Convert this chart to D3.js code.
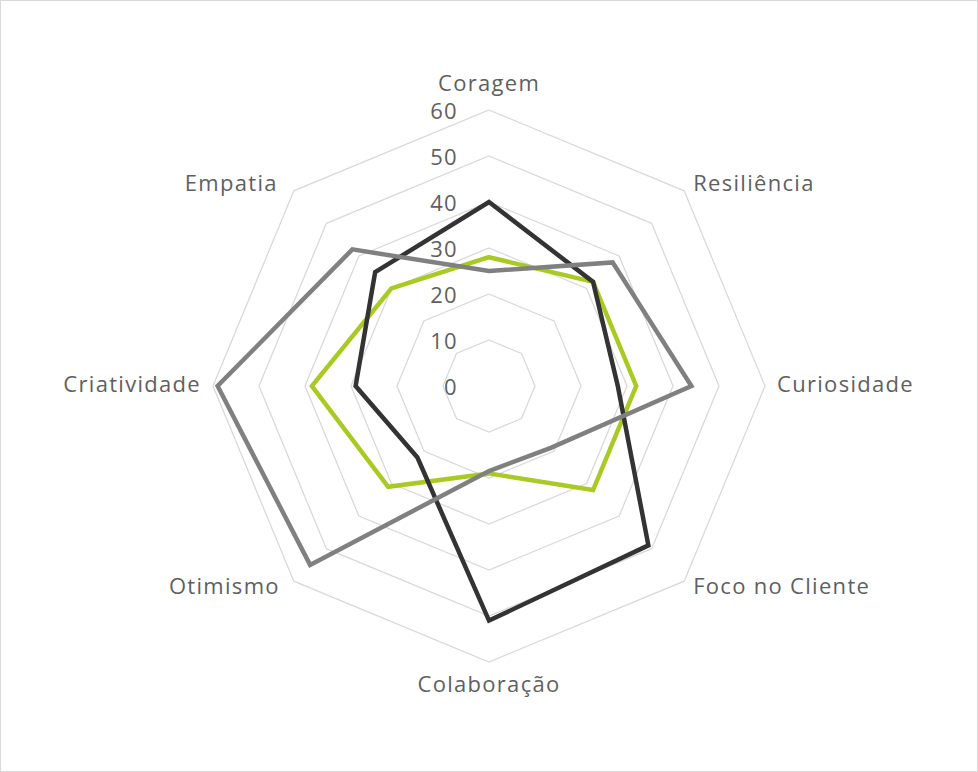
<!DOCTYPE html>
<html>
<head>
<meta charset="utf-8">
<script src="https://cdn.jsdelivr.net/npm/d3@7"></script>
<style>
  html, body { margin: 0; padding: 0; background: #fff; }
  svg { display: block; }
  text { font-family: "Open Sans", "Noto Sans", sans-serif; fill: #5f5f5f; font-size: 22px; letter-spacing: 1.3px; }
</style>
</head>
<body>
<script>
const categories = ["Coragem", "Resiliência", "Curiosidade", "Foco no Cliente", "Colaboração", "Otimismo", "Criatividade", "Empatia"];
const seriesGreen = [28, 32, 32, 32, 19, 31, 38.5, 30];
const seriesDark  = [40, 32, 28, 49, 51, 22, 29, 35];
const seriesGray  = [25, 38, 44, 19, 18.5, 55, 59, 42];
const tickValues = [0, 10, 20, 30, 40, 50, 60];
const seriesColors = ["#A9C924", "#333333", "#808080"];

const W = 978, H = 772, cx = 489, cy = 386, R = 276;

const svg = d3.select("body").append("svg").attr("width", W).attr("height", H);
svg.append("rect").attr("x", 0.5).attr("y", 0.5).attr("width", W - 1).attr("height", H - 1)
  .attr("fill", "#fff").attr("stroke", "#D9D9D9").attr("stroke-width", 1);

const r = d3.scaleLinear().domain([0, 60]).range([0, R]);
const angle = d3.scalePoint().domain(d3.range(categories.length)).range([0, 2 * Math.PI * (categories.length - 1) / categories.length]);

const g = svg.append("g").attr("transform", `translate(${cx},${cy})`);

// grid rings
const ringLine = d3.lineRadial().angle((d, i) => angle(i)).radius(d => r(d)).curve(d3.curveLinearClosed);
tickValues.filter(v => v > 0).forEach(v => {
  g.append("path").attr("d", ringLine(categories.map(() => v)))
    .attr("fill", "none").attr("stroke", "#D9D9D9").attr("stroke-width", 1.3);
});

// series
const seriesLine = d3.lineRadial().angle((d, i) => angle(i)).radius(d => r(d)).curve(d3.curveLinearClosed);
[seriesGreen, seriesDark, seriesGray].forEach((s, k) => {
  g.append("path").attr("d", seriesLine(s))
    .attr("fill", "none").attr("stroke", seriesColors[k]).attr("stroke-width", 4.5)
    .attr("stroke-linejoin", "miter");
});

// tick labels
g.selectAll("text.tick").data(tickValues).join("text").attr("class", "tick")
  .attr("x", -31).attr("y", d => -r(d) + 8.5).attr("text-anchor", "end").text(d => d);

// category labels
const pt = (i, v) => { const a = angle(i); return [r(v) * Math.sin(a), -r(v) * Math.cos(a)]; };
const labelSpec = [
  { dx: 0, dy: -19, anchor: "middle" },
  { dx: 9, dy: 0, anchor: "start" },
  { dx: 12, dy: 6, anchor: "start" },
  { dx: 9, dy: 13, anchor: "start" },
  { dx: 0, dy: 30, anchor: "middle" },
  { dx: -14, dy: 13, anchor: "end" },
  { dx: -12, dy: 6, anchor: "end" },
  { dx: -16, dy: 0, anchor: "end" }
];
categories.forEach((c, i) => {
  const [x, y] = pt(i, 60);
  const s = labelSpec[i];
  g.append("text").attr("x", x + s.dx).attr("y", y + s.dy).attr("text-anchor", s.anchor).text(c);
});
</script>
</body>
</html>
